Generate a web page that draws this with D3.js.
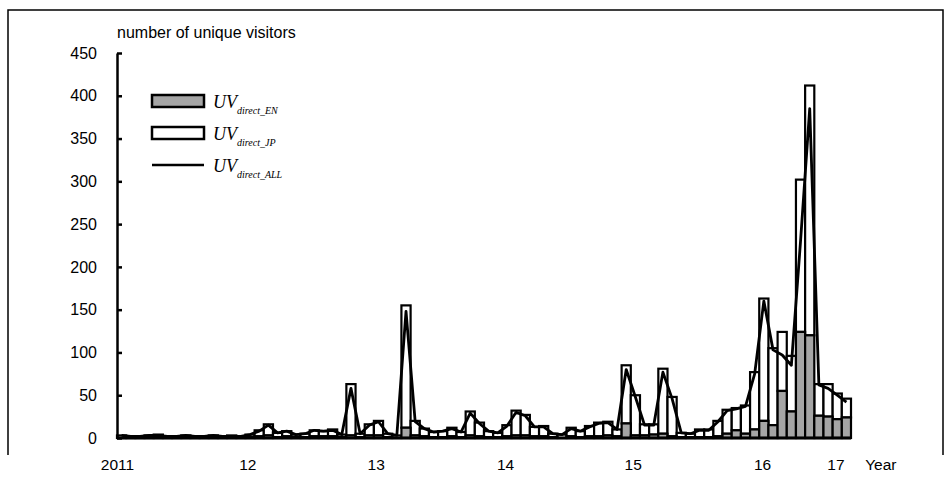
<!DOCTYPE html>
<html>
<head>
<meta charset="utf-8">
<script src="https://cdn.jsdelivr.net/npm/d3@7"></script>
<style>
  body { margin: 0; background: #fff; }
  svg { display: block; font-family: "Liberation Sans", Arial, sans-serif; }
  .legend text { font-family: "Liberation Serif", "Times New Roman", serif; font-style: italic; }
</style>
</head>
<body>
<svg id="chart" width="951" height="482"></svg>
<script>
// one bar per period
const periods = d3.range(80);

const enValues = [
  0, 0, 0, 1, 1, 0, 0, 0, 0, 0,
  0, 0, 1, 0, 1, 2, 3, 1, 2, 1,
  1, 2, 2, 2, 1, 3, 1, 3, 3, 1,
  0, 12, 3, 2, 1, 1, 2, 1, 3, 2,
  1, 1, 2, 3, 3, 2, 2, 1, 0, 2,
  1, 2, 2, 3, 2, 17, 3, 3, 4, 5,
  2, 1, 1, 1, 1, 2, 5, 9, 5, 10,
  20, 15, 55, 31, 124, 120, 26, 25, 22, 24
];

const jpValues = [
  3, 2, 2, 2, 3, 2, 2, 3, 2, 2,
  3, 2, 2, 2, 3, 7, 13, 5, 6, 3,
  4, 7, 6, 8, 3, 60, 4, 13, 17, 4,
  3, 143, 17, 9, 6, 7, 10, 6, 28, 16,
  7, 5, 13, 29, 24, 11, 12, 4, 4, 10,
  7, 12, 16, 16, 8, 68, 47, 13, 12, 76,
  46, 5, 4, 9, 9, 18, 28, 26, 33, 67,
  143, 90, 69, 65, 178, 292, 37, 38, 30, 22
];

const allValues = [
  3, 2, 2, 3, 3, 2, 2, 3, 2, 2,
  3, 2, 2, 2, 4, 8, 15, 6, 8, 4,
  5, 9, 8, 9, 4, 58, 5, 15, 19, 5,
  3, 148, 19, 11, 7, 8, 11, 7, 29, 17,
  8, 6, 14, 30, 26, 13, 13, 5, 4, 11,
  8, 13, 17, 18, 10, 80, 48, 15, 15, 77,
  46, 6, 5, 9, 9, 19, 32, 34, 37, 75,
  160, 103, 97, 85, 230, 385, 62, 58, 50, 42
];

const yTicks = [0, 50, 100, 150, 200, 250, 300, 350, 400, 450];
const yearLabels = ["2011", "12", "13", "14", "15", "16", "17", "Year"];
const yearAt = [0, 14.2, 28.2, 42.3, 56.2, 70.3, 78.3, 83.2];   // in bar units
const legendLabels = ["direct_EN", "direct_JP", "direct_ALL"];

const svg = d3.select("#chart");

const plotLeft = 117, plotRight = 851, plotTop = 53, plotBottom = 438;

const x = d3.scaleBand()
  .domain(periods)
  .range([plotLeft, plotRight])
  .padding(0);

const xPos = d3.scaleLinear()
  .domain([0, periods.length])
  .range([plotLeft, plotRight]);

const y = d3.scaleLinear()
  .domain([0, 450])
  .range([plotBottom, plotTop]);

// outer frame
svg.append("path")
  .attr("d", "M8,455V10H943V455")
  .attr("fill", "none")
  .attr("stroke", "#000")
  .attr("stroke-width", 1.5);

// title
svg.append("text")
  .attr("x", plotLeft)
  .attr("y", 38)
  .attr("font-size", 16)
  .text("number of unique visitors");

const rows = periods.map((p, i) => ({ period: p, en: enValues[i], jp: jpValues[i] }));
const stacked = d3.stack().keys(["en", "jp"])(rows);
const fills = { en: "#a5a5a5", jp: "#ffffff" };

// JP first, EN on top of it
svg.append("g")
  .selectAll("g")
  .data(stacked.slice().reverse())
  .enter().append("g")
  .attr("fill", d => fills[d.key])
  .attr("stroke", "#000")
  .attr("stroke-width", 2.2)
  .selectAll("rect")
  .data(d => d)
  .enter().append("rect")
  .attr("x", d => x(d.data.period))
  .attr("width", x.bandwidth())
  .attr("y", d => y(d[1]))
  .attr("height", d => y(d[0]) - y(d[1]));

// ALL line through bar centres
const line = d3.line()
  .x((d, i) => x(periods[i]) + x.bandwidth() / 2)
  .y(d => y(d));

svg.append("path")
  .datum(allValues)
  .attr("d", line)
  .attr("fill", "none")
  .attr("stroke", "#000")
  .attr("stroke-width", 2.8)
  .attr("stroke-linejoin", "round");

// baseline
svg.append("line")
  .attr("x1", plotLeft).attr("x2", plotRight)
  .attr("y1", y(0)).attr("y2", y(0))
  .attr("stroke", "#000")
  .attr("stroke-width", 2.8);

// y axis, ticks pointing inward
const yAxis = svg.append("g")
  .attr("transform", "translate(" + plotLeft + ",0)")
  .call(d3.axisLeft(y).tickValues(yTicks).tickSizeInner(-5).tickSizeOuter(0).tickPadding(20));
yAxis.selectAll("path, line").attr("stroke", "#000").attr("stroke-width", 2.5);
yAxis.selectAll("text").attr("font-size", 16).attr("fill", "#000")
  .attr("font-family", "Liberation Sans, Arial, sans-serif");

// year labels
const xAxis = svg.append("g")
  .attr("transform", "translate(0," + plotBottom + ")")
  .call(d3.axisBottom(xPos).tickValues(yearAt).tickFormat((d, i) => yearLabels[i]).tickSize(0).tickPadding(21));
xAxis.select(".domain").remove();
xAxis.selectAll("text").attr("font-size", 15.5).attr("fill", "#000")
  .attr("font-family", "Liberation Sans, Arial, sans-serif");

// legend
const ly = d3.scalePoint().domain(legendLabels).range([101, 165]);
const legend = svg.append("g").attr("class", "legend");

legend.selectAll("rect")
  .data(legendLabels.slice(0, 2))
  .enter().append("rect")
  .attr("x", 152)
  .attr("y", d => ly(d) - 6)
  .attr("width", 52)
  .attr("height", 12)
  .attr("fill", (d, i) => i === 0 ? fills.en : fills.jp)
  .attr("stroke", "#000")
  .attr("stroke-width", 2.5);

legend.append("line")
  .attr("x1", 152).attr("x2", 204)
  .attr("y1", ly(legendLabels[2])).attr("y2", ly(legendLabels[2]))
  .attr("stroke", "#000")
  .attr("stroke-width", 2.5);

const lt = legend.selectAll("text")
  .data(legendLabels)
  .enter().append("text")
  .attr("x", 213)
  .attr("y", d => ly(d) + 7);
lt.append("tspan").attr("font-size", 18).text("UV");
lt.append("tspan").attr("font-size", 10).attr("dy", 6).text(d => d);
</script>
</body>
</html>
